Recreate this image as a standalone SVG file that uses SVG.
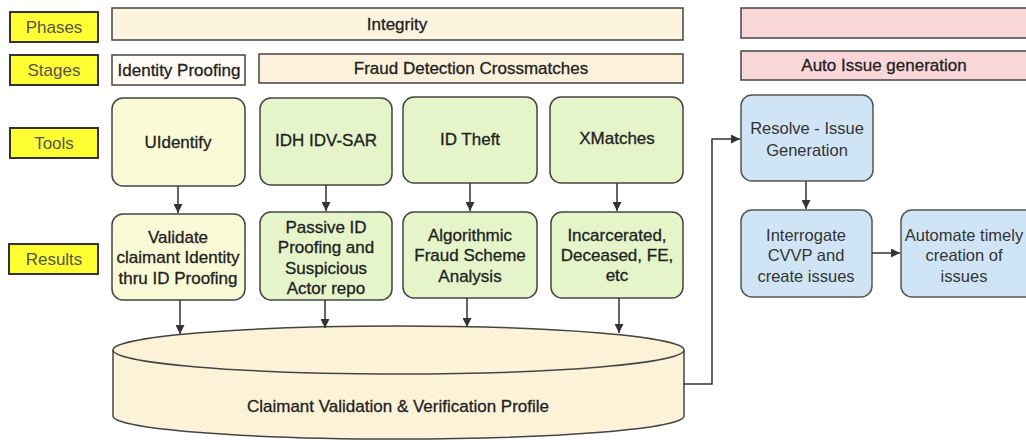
<svg xmlns="http://www.w3.org/2000/svg" width="1026" height="440" viewBox="0 0 1026 440">
<defs>
<style>
text{font-family:"Liberation Sans",Arial,sans-serif;fill:#222;text-anchor:middle;dominant-baseline:central}
.lbl{fill:#ffff33;stroke:#333;stroke-width:2}
.lt{font-size:17px;fill:#555}
.bar{stroke:#444;stroke-width:1.5}
.bt{font-size:17px;stroke:#222;stroke-width:0.3}
.box{stroke:#444;stroke-width:1.5}
.t{font-size:17px;stroke:#222;stroke-width:0.3}
.bl{fill:#cfe5f6;stroke:#555;stroke-width:1.5}
.btxt{font-size:16.5px;fill:#333}
.conn{fill:none;stroke:#333;stroke-width:1.5}
</style>
<marker id="ah" viewBox="0 0 10 10" refX="10" refY="5" markerWidth="9" markerHeight="9" markerUnits="userSpaceOnUse" orient="auto">
<path d="M0,0 L10,5 L0,10 z" fill="#333"/>
</marker>
</defs>
<rect width="1026" height="440" fill="#fff"/>

<g id="label-phases"><rect class="lbl" x="10" y="12" width="88" height="30"/><text class="lt" x="54" y="27">Phases</text></g>
<g id="label-stages"><rect class="lbl" x="10" y="55" width="88" height="30"/><text class="lt" x="54" y="70">Stages</text></g>
<g id="label-tools"><rect class="lbl" x="10" y="128" width="88" height="30"/><text class="lt" x="54" y="143">Tools</text></g>
<g id="label-results"><rect class="lbl" x="9" y="244" width="89" height="30"/><text class="lt" x="54" y="259">Results</text></g>

<g id="phase-integrity"><rect class="bar" x="112" y="8" width="571" height="32" fill="#fdf4e0"/><text class="bt" x="397" y="24">Integrity</text></g>
<g id="phase-pink"><rect class="bar" x="741" y="8" width="290" height="30" fill="#f9d6d8" stroke="#e8c2c4"/></g>
<g id="stage-identity"><rect class="bar" x="112" y="55" width="133" height="30" fill="#fefcf4"/><text class="bt" x="179" y="70">Identity Proofing</text></g>
<g id="stage-fraud"><rect class="bar" x="259" y="54" width="424" height="29" fill="#fcf2dc"/><text class="bt" x="471" y="68">Fraud Detection Crossmatches</text></g>
<g id="stage-auto"><rect class="bar" x="741" y="51" width="290" height="29" fill="#f9d6d8"/><text class="bt" x="884" y="65">Auto Issue generation</text></g>

<g id="tool-uidentify"><rect class="box" x="112" y="98" width="133" height="88" rx="11" fill="#fafad6"/><text class="t" x="178" y="142">UIdentify</text></g>
<g id="tool-idh"><rect class="box" x="260" y="98" width="132" height="87" rx="11" fill="#e5f4c9"/><text class="t" x="326" y="140">IDH IDV-SAR</text></g>
<g id="tool-idtheft"><rect class="box" x="403" y="97" width="134" height="86" rx="11" fill="#e5f4c9"/><text class="t" x="470" y="139">ID Theft</text></g>
<g id="tool-xmatches"><rect class="box" x="550" y="97" width="133" height="86" rx="11" fill="#e5f4c9"/><text class="t" x="617" y="138">XMatches</text></g>

<g id="res-validate"><rect class="box" x="112" y="214" width="133" height="86" rx="11" fill="#fafad6"/><text class="t" x="178" y="237">Validate</text><text class="t" x="178" y="257">claimant Identity</text><text class="t" x="178" y="278">thru ID Proofing</text></g>
<g id="res-passive"><rect class="box" x="260" y="212" width="132" height="88" rx="11" fill="#e5f4c9"/><text class="t" x="326" y="227">Passive ID</text><text class="t" x="326" y="247">Proofing and</text><text class="t" x="326" y="268">Suspicious</text><text class="t" x="326" y="288">Actor repo</text></g>
<g id="res-algorithmic"><rect class="box" x="403" y="212" width="134" height="86" rx="11" fill="#e5f4c9"/><text class="t" x="470" y="235">Algorithmic</text><text class="t" x="470" y="255">Fraud Scheme</text><text class="t" x="470" y="276">Analysis</text></g>
<g id="res-incarcerated"><rect class="box" x="551" y="212" width="132" height="86" rx="11" fill="#e5f4c9"/><text class="t" x="617" y="235">Incarcerated,</text><text class="t" x="617" y="255">Deceased, FE,</text><text class="t" x="617" y="275">etc</text></g>

<g id="cvvp">
<path d="M113,350 L113,416 A285.5,23 0 0 0 684,416 L684,350" fill="#fcf2d8" stroke="#444" stroke-width="1.5"/>
<ellipse cx="398.5" cy="350" rx="285.5" ry="24" fill="#fcf2d8" stroke="#444" stroke-width="1.5"/>
<text class="t" x="398" y="406">Claimant Validation &amp; Verification Profile</text>
</g>

<g id="blue-resolve"><rect class="bl" x="741" y="95" width="132" height="86" rx="11"/><text class="btxt" x="807" y="128">Resolve - Issue</text><text class="btxt" x="807" y="150">Generation</text></g>
<g id="blue-interrogate"><rect class="bl" x="741" y="210" width="131" height="87" rx="11"/><text class="btxt" x="806" y="235">Interrogate</text><text class="btxt" x="806" y="255">CVVP and</text><text class="btxt" x="806" y="276">create issues</text></g>
<g id="blue-automate"><rect class="bl" x="901" y="210" width="135" height="87" rx="11"/><text class="btxt" x="964" y="235">Automate timely</text><text class="btxt" x="964" y="255">creation of</text><text class="btxt" x="964" y="276" fill="#666">issues</text></g>

<g id="connectors">
<line class="conn" x1="178" y1="186" x2="178" y2="213" marker-end="url(#ah)"/>
<line class="conn" x1="326" y1="185" x2="326" y2="211" marker-end="url(#ah)"/>
<line class="conn" x1="470" y1="183" x2="470" y2="211" marker-end="url(#ah)"/>
<line class="conn" x1="617" y1="183" x2="617" y2="211" marker-end="url(#ah)"/>
<line class="conn" x1="180" y1="300" x2="180" y2="334" marker-end="url(#ah)"/>
<line class="conn" x1="325" y1="300" x2="325" y2="328" marker-end="url(#ah)"/>
<line class="conn" x1="467" y1="298" x2="467" y2="327" marker-end="url(#ah)"/>
<line class="conn" x1="619" y1="298" x2="619" y2="333" marker-end="url(#ah)"/>
<polyline class="conn" points="684,384 712,384 712,139 740,139" marker-end="url(#ah)"/>
<line class="conn" x1="806" y1="181" x2="806" y2="209" marker-end="url(#ah)"/>
<line class="conn" x1="872" y1="253" x2="900" y2="253" marker-end="url(#ah)"/>
</g>
</svg>
